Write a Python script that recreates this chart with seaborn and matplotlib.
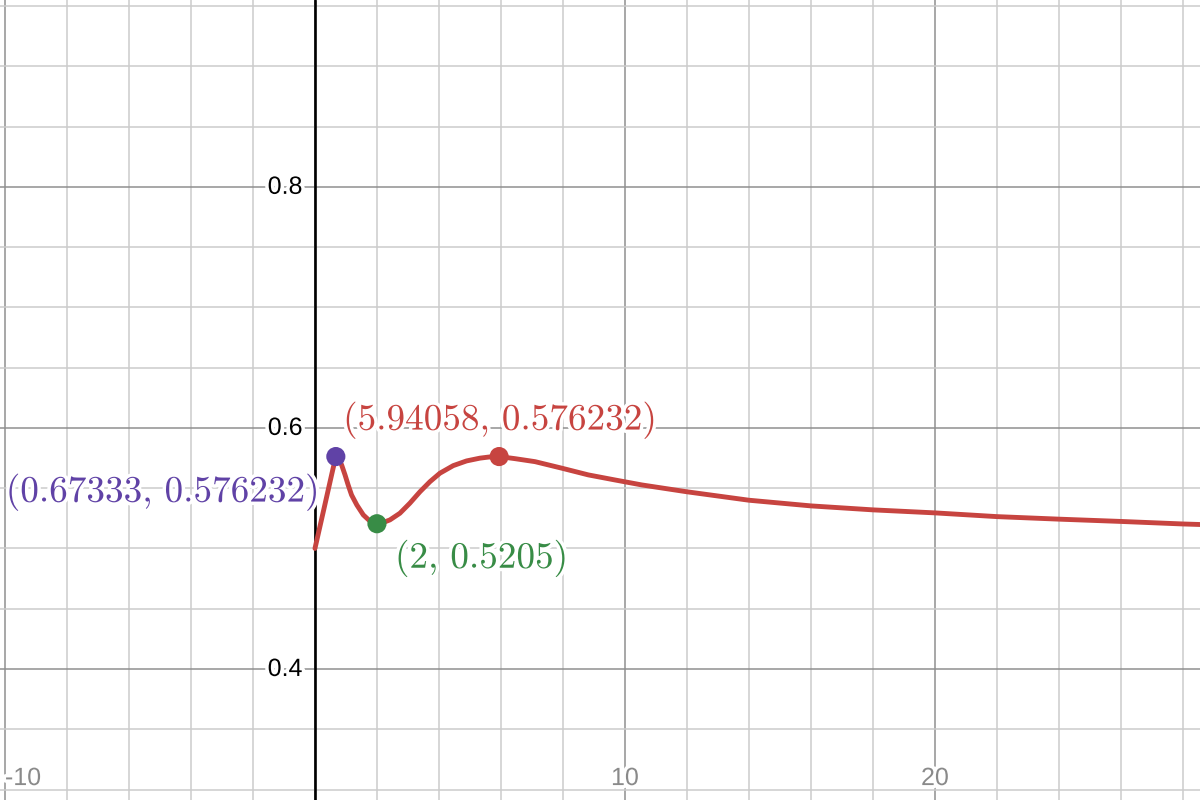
import numpy as np
import pandas as pd
import matplotlib
matplotlib.use("Agg")
import matplotlib.pyplot as plt
import matplotlib.patheffects as pe
import seaborn as sns

# ---- data ----
curve_x = [0, 0.3, 0.55, 0.67333, 0.76, 0.86, 0.97, 1.07, 1.18, 1.35, 1.56, 1.77, 2.0,
           2.2, 2.42, 2.74, 3.06, 3.39, 3.71, 4.03, 4.46, 4.89, 5.32, 5.6, 5.94058,
           6.45, 7.1, 7.96, 8.82, 9.68, 10.54, 12, 14, 16, 18, 20, 22, 24, 26, 28, 29]
curve_y = [0.5, 0.534, 0.5625, 0.576232, 0.5745, 0.5693, 0.561, 0.5527, 0.5444, 0.5361,
           0.5278, 0.5228, 0.5205, 0.5215, 0.5237, 0.5292, 0.5375, 0.5471, 0.5554,
           0.5624, 0.5687, 0.5726, 0.5749, 0.5758, 0.576232, 0.5745, 0.5720, 0.5666,
           0.5610, 0.5568, 0.5527, 0.5470, 0.5400, 0.5353, 0.5320, 0.5295, 0.5264,
           0.5243, 0.5224, 0.5203, 0.5195]

point_x = [0.67333, 2, 5.94058]
point_y = [0.576232, 0.5205, 0.576232]
point_labels = [r"$(0.67333,\, 0.576232)$",
                r"$(2,\, 0.5205)$",
                r"$(5.94058,\, 0.576232)$"]
point_colors = ["#6042a6", "#388c46", "#c74440"]

x_tick_vals = [-10, 10, 20]
x_tick_labels = ["-10", "10", "20"]
y_tick_vals = [0.4, 0.6, 0.8]
y_tick_labels = ["0.4", "0.6", "0.8"]

# ---- drawing ----
sns.set_style("white")
plt.rcParams["mathtext.fontset"] = "cm"
plt.rcParams["font.family"] = ["Liberation Sans", "DejaVu Sans"]

fig = plt.figure(figsize=(12, 8), dpi=100)
ax = fig.add_axes([0, 0, 1, 1])

xmin, xmax = -10.16, 28.55
ymin, ymax = 0.2913, 0.955
ax.set_xlim(xmin, xmax)
ax.set_ylim(ymin, ymax)

ax.set_xticks(np.arange(-10, 30, 10))
ax.set_xticks(np.arange(-10, 30, 2), minor=True)
ax.set_yticks(np.arange(0.4, 0.95, 0.2))
ax.set_yticks(np.arange(0.30, 0.96, 0.05), minor=True)
ax.grid(which="minor", color="#cccccc", lw=1.1, zorder=0)
ax.grid(which="major", color="#8f8f8f", lw=1.1, zorder=0)
ax.tick_params(which="both", length=0, labelbottom=False, labelleft=False)
for s in ax.spines.values():
    s.set_visible(False)
ax.set_axisbelow(True)

# y axis
ax.axvline(0, color="black", lw=1.9, zorder=2)

halo = [pe.withStroke(linewidth=5, foreground="white")]

# tick labels
for xv, lab in zip(x_tick_vals, x_tick_labels):
    ha = "left" if xv == -10 else "center"
    ax.text(xv, 0.3095, lab, ha=ha, va="center", fontsize=18, color="#8a8a8a",
            path_effects=halo, zorder=3)
for yv, lab in zip(y_tick_vals, y_tick_labels):
    ax.text(-0.4, yv, lab, ha="right", va="center", fontsize=18, color="black",
            path_effects=halo, zorder=3)

df = pd.DataFrame({"x": curve_x, "y": curve_y})
sns.lineplot(data=df, x="x", y="y", ax=ax, color="#c74440", lw=3.5, sort=False,
             zorder=4, solid_capstyle="round", solid_joinstyle="round")

pts = pd.DataFrame({"x": point_x, "y": point_y, "c": point_colors})
sns.scatterplot(data=pts, x="x", y="y", hue="c", palette={c: c for c in point_colors},
                s=190, edgecolor="none", legend=False, ax=ax, zorder=5)
ax.set_xlabel("")
ax.set_ylabel("")

# point labels (offsets in pixels from each point)
label_offsets = [(-18, -45, "right"), (18, -44, "left"), (0, 27, "center")]
for px, py, lab, col, (dx, dy, ha) in zip(point_x, point_y, point_labels,
                                          point_colors, label_offsets):
    ax.annotate(lab, (px, py), xytext=(dx, dy), textcoords="offset pixels",
                ha=ha, va="baseline", fontsize=26.8, color=col,
                path_effects=halo, zorder=6)

fig.savefig("out.png", dpi=100)
